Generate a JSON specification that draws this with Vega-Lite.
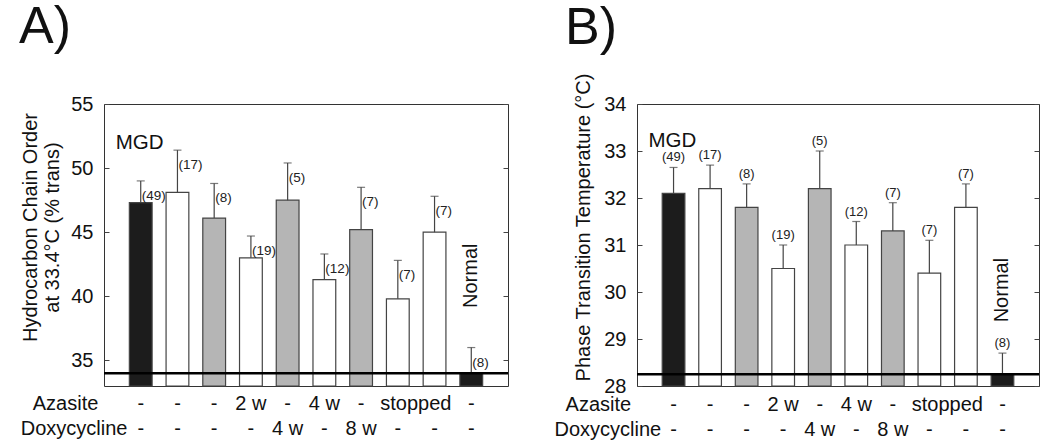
{
  "$schema": "https://vega.github.io/schema/vega-lite/v6.json",
  "padding": {"left": 18, "top": 0, "right": 5, "bottom": 0},
  "config": {
    "font": "Liberation Sans",
    "view": {"stroke": "#333", "strokeWidth": 1},
    "axis": {"labelFontSize": 20, "labelColor": "#111", "titleFontSize": 20, "titleFontWeight": "normal", "titleColor": "#111", "grid": false, "domain": false, "tickColor": "#444", "tickSize": -5}
  },
  "datasets": {
    "a": [
      {"id": 1, "mean": 47.3, "upper": 49.0, "nlab": "(49)", "group": "black"},
      {"id": 2, "mean": 48.1, "upper": 51.4, "nlab": "(17)", "group": "white"},
      {"id": 3, "mean": 46.1, "upper": 48.8, "nlab": "(8)", "group": "grey"},
      {"id": 4, "mean": 43.0, "upper": 44.7, "nlab": "(19)", "group": "white"},
      {"id": 5, "mean": 47.5, "upper": 50.4, "nlab": "(5)", "group": "grey"},
      {"id": 6, "mean": 41.3, "upper": 43.3, "nlab": "(12)", "group": "white"},
      {"id": 7, "mean": 45.2, "upper": 48.5, "nlab": "(7)", "group": "grey"},
      {"id": 8, "mean": 39.8, "upper": 42.8, "nlab": "(7)", "group": "white"},
      {"id": 9, "mean": 45.0, "upper": 47.8, "nlab": "(7)", "group": "white"},
      {"id": 10, "mean": 34.0, "upper": 36.0, "nlab": "(8)", "group": "black"}
    ],
    "b": [
      {"id": 1, "mean": 32.1, "upper": 32.65, "nlab": "(49)", "group": "black"},
      {"id": 2, "mean": 32.2, "upper": 32.7, "nlab": "(17)", "group": "white"},
      {"id": 3, "mean": 31.8, "upper": 32.3, "nlab": "(8)", "group": "grey"},
      {"id": 4, "mean": 30.5, "upper": 31.0, "nlab": "(19)", "group": "white"},
      {"id": 5, "mean": 32.2, "upper": 33.0, "nlab": "(5)", "group": "grey"},
      {"id": 6, "mean": 31.0, "upper": 31.5, "nlab": "(12)", "group": "white"},
      {"id": 7, "mean": 31.3, "upper": 31.9, "nlab": "(7)", "group": "grey"},
      {"id": 8, "mean": 30.4, "upper": 31.1, "nlab": "(7)", "group": "white"},
      {"id": 9, "mean": 31.8, "upper": 32.3, "nlab": "(7)", "group": "white"},
      {"id": 10, "mean": 28.25, "upper": 28.7, "nlab": "(8)", "group": "black"}
    ],
    "tbl": [
      {"drug": "Azasite", "id": 1, "label": "-"},
      {"drug": "Azasite", "id": 2, "label": "-"},
      {"drug": "Azasite", "id": 3, "label": "-"},
      {"drug": "Azasite", "id": 4, "label": "2 w"},
      {"drug": "Azasite", "id": 5, "label": "-"},
      {"drug": "Azasite", "id": 6, "label": "4 w"},
      {"drug": "Azasite", "id": 7, "label": "-"},
      {"drug": "Azasite", "id": 8, "label": "stopped"},
      {"drug": "Azasite", "id": 10, "label": "-"},
      {"drug": "Doxycycline", "id": 1, "label": "-"},
      {"drug": "Doxycycline", "id": 2, "label": "-"},
      {"drug": "Doxycycline", "id": 3, "label": "-"},
      {"drug": "Doxycycline", "id": 4, "label": "-"},
      {"drug": "Doxycycline", "id": 5, "label": "4 w"},
      {"drug": "Doxycycline", "id": 6, "label": "-"},
      {"drug": "Doxycycline", "id": 7, "label": "8 w"},
      {"drug": "Doxycycline", "id": 8, "label": "-"},
      {"drug": "Doxycycline", "id": 9, "label": "-"},
      {"drug": "Doxycycline", "id": 10, "label": "-"}
    ],
    "rows": [
      {"drug": "Azasite", "id": 1},
      {"drug": "Doxycycline", "id": 1}
    ]
  },
  "spacing": 44,
  "hconcat": [
    {
      "title": {"text": "A)", "fontSize": 52, "fontWeight": "normal", "anchor": "start", "frame": "group", "dx": -85, "offset": 40, "color": "#111"},
      "width": 404,
      "height": 282,
      "resolve": {"axis": {"y": "independent"}},
      "layer": [
        {
          "data": {"name": "a"},
          "mark": {"type": "bar", "stroke": "#444", "strokeWidth": 1.2},
          "encoding": {
            "x": {"field": "id", "type": "ordinal", "scale": {"type": "band", "domain": [1,2,3,4,5,6,7,8,9,10], "paddingInner": 0.38, "paddingOuter": 0.69}, "axis": null},
            "y": {"field": "mean", "type": "quantitative", "scale": {"domain": [33, 55], "nice": false, "zero": false}, "axis": {"values": [35, 40, 45, 50, 55], "labelPadding": 16, "title": ["Hydrocarbon Chain Order", "at 33.4°C (% trans)"], "titlePadding": 8, "titleLineHeight": 22, "titleY": 123}},
            "y2": {"datum": 33},
            "fill": {"field": "group", "type": "nominal", "scale": {"domain": ["black", "grey", "white"], "range": ["#1c1c1c", "#b5b5b5", "#ffffff"]}, "legend": null}
          }
        },
        {
          "data": {"name": "a"},
          "mark": {"type": "rule", "color": "#444", "strokeWidth": 1.2},
          "encoding": {
            "x": {"field": "id", "type": "ordinal", "axis": null},
            "y": {"field": "mean", "type": "quantitative", "scale": {"domain": [33, 55], "nice": false, "zero": false}, "axis": null},
            "y2": {"field": "upper"}
          }
        },
        {
          "data": {"name": "a"},
          "mark": {"type": "tick", "color": "#444", "size": 8, "thickness": 1.2},
          "encoding": {
            "x": {"field": "id", "type": "ordinal", "axis": null},
            "y": {"field": "upper", "type": "quantitative", "scale": {"domain": [33, 55], "nice": false, "zero": false}, "axis": null}
          }
        },
        {
          "data": {"values": [{}]},
          "mark": {"type": "rule", "color": "#000", "strokeWidth": 2.5},
          "encoding": {
            "y": {"datum": 34, "type": "quantitative", "scale": {"domain": [33, 55], "nice": false, "zero": false}, "axis": {"orient": "right", "values": [35, 40, 45, 50, 55], "labels": false, "title": null}}
          }
        },
        {
          "data": {"name": "a"},
          "mark": {"type": "text", "align": "left", "baseline": "middle", "dx": 1, "dy": 15, "fontSize": 13.5, "color": "#222"},
          "encoding": {
            "x": {"field": "id", "type": "ordinal", "axis": null},
            "y": {"field": "upper", "type": "quantitative", "scale": {"domain": [33, 55], "nice": false, "zero": false}, "axis": null},
            "text": {"field": "nlab"}
          }
        },
        {
          "data": {"values": [{"id": 1, "label": "MGD"}]},
          "mark": {"type": "text", "align": "left", "baseline": "middle", "dx": -25, "fontSize": 20.5, "color": "#111"},
          "encoding": {
            "x": {"field": "id", "type": "ordinal", "axis": null},
            "y": {"datum": 51.95, "type": "quantitative", "scale": {"domain": [33, 55], "nice": false, "zero": false}, "axis": null},
            "text": {"field": "label"}
          }
        },
        {
          "data": {"values": [{"id": 10, "label": "Normal"}]},
          "mark": {"type": "text", "align": "center", "baseline": "middle", "angle": 270, "fontSize": 20, "color": "#111"},
          "encoding": {
            "x": {"field": "id", "type": "ordinal", "axis": null},
            "y": {"datum": 41.6, "type": "quantitative", "scale": {"domain": [33, 55], "nice": false, "zero": false}, "axis": null},
            "text": {"field": "label"}
          }
        },
        {
          "data": {"name": "tbl"},
          "transform": [{"filter": "datum.drug === 'Azasite' && datum.label !== 'stopped'"}],
          "mark": {"type": "text", "baseline": "middle", "fontSize": 20, "color": "#111"},
          "encoding": {
            "x": {"field": "id", "type": "ordinal", "axis": null},
            "y": {"datum": 31.6, "type": "quantitative", "scale": {"domain": [33, 55], "nice": false, "zero": false}, "axis": null},
            "text": {"field": "label"}
          }
        },
        {
          "data": {"name": "tbl"},
          "transform": [{"filter": "datum.label === 'stopped'"}],
          "mark": {"type": "text", "baseline": "middle", "fontSize": 20, "color": "#111", "dx": 18},
          "encoding": {
            "x": {"field": "id", "type": "ordinal", "axis": null},
            "y": {"datum": 31.6, "type": "quantitative", "scale": {"domain": [33, 55], "nice": false, "zero": false}, "axis": null},
            "text": {"field": "label"}
          }
        },
        {
          "data": {"name": "tbl"},
          "transform": [{"filter": "datum.drug === 'Doxycycline'"}],
          "mark": {"type": "text", "baseline": "middle", "fontSize": 20, "color": "#111"},
          "encoding": {
            "x": {"field": "id", "type": "ordinal", "axis": null},
            "y": {"datum": 29.65, "type": "quantitative", "scale": {"domain": [33, 55], "nice": false, "zero": false}, "axis": null},
            "text": {"field": "label"}
          }
        },
        {
          "data": {"name": "rows"},
          "transform": [{"filter": "datum.drug === 'Azasite'"}],
          "mark": {"type": "text", "align": "left", "baseline": "middle", "fontSize": 20, "color": "#111", "dx": -108},
          "encoding": {
            "x": {"field": "id", "type": "ordinal", "axis": null},
            "y": {"datum": 31.6, "type": "quantitative", "scale": {"domain": [33, 55], "nice": false, "zero": false}, "axis": null},
            "text": {"field": "drug"}
          }
        },
        {
          "data": {"name": "rows"},
          "transform": [{"filter": "datum.drug === 'Doxycycline'"}],
          "mark": {"type": "text", "align": "left", "baseline": "middle", "fontSize": 20, "color": "#111", "dx": -120},
          "encoding": {
            "x": {"field": "id", "type": "ordinal", "axis": null},
            "y": {"datum": 29.65, "type": "quantitative", "scale": {"domain": [33, 55], "nice": false, "zero": false}, "axis": null},
            "text": {"field": "drug"}
          }
        }
      ]
    },
    {
      "title": {"text": "B)", "fontSize": 52, "fontWeight": "normal", "anchor": "start", "frame": "group", "dx": -72, "dy": 19, "offset": 37, "color": "#111"},
      "width": 402,
      "height": 282,
      "resolve": {"axis": {"y": "independent"}},
      "layer": [
        {
          "data": {"name": "b"},
          "mark": {"type": "bar", "stroke": "#444", "strokeWidth": 1.2},
          "encoding": {
            "x": {"field": "id", "type": "ordinal", "scale": {"type": "band", "domain": [1,2,3,4,5,6,7,8,9,10], "paddingInner": 0.38, "paddingOuter": 0.69}, "axis": null},
            "y": {"field": "mean", "type": "quantitative", "scale": {"domain": [28, 34], "nice": false, "zero": false}, "axis": {"values": [28, 29, 30, 31, 32, 33, 34], "labelPadding": 16, "title": "Phase Transition Temperature (°C)", "titlePadding": 10, "titleY": 123}},
            "y2": {"datum": 28},
            "fill": {"field": "group", "type": "nominal", "scale": {"domain": ["black", "grey", "white"], "range": ["#1c1c1c", "#b5b5b5", "#ffffff"]}, "legend": null}
          }
        },
        {
          "data": {"name": "b"},
          "mark": {"type": "rule", "color": "#444", "strokeWidth": 1.2},
          "encoding": {
            "x": {"field": "id", "type": "ordinal", "axis": null},
            "y": {"field": "mean", "type": "quantitative", "scale": {"domain": [28, 34], "nice": false, "zero": false}, "axis": null},
            "y2": {"field": "upper"}
          }
        },
        {
          "data": {"name": "b"},
          "mark": {"type": "tick", "color": "#444", "size": 8, "thickness": 1.2},
          "encoding": {
            "x": {"field": "id", "type": "ordinal", "axis": null},
            "y": {"field": "upper", "type": "quantitative", "scale": {"domain": [28, 34], "nice": false, "zero": false}, "axis": null}
          }
        },
        {
          "data": {"values": [{}]},
          "mark": {"type": "rule", "color": "#000", "strokeWidth": 2.5},
          "encoding": {
            "y": {"datum": 28.25, "type": "quantitative", "scale": {"domain": [28, 34], "nice": false, "zero": false}, "axis": {"orient": "right", "values": [28, 29, 30, 31, 32, 33, 34], "labels": false, "title": null}}
          }
        },
        {
          "data": {"name": "b"},
          "mark": {"type": "text", "align": "center", "baseline": "bottom", "dy": -3, "fontSize": 13, "color": "#222"},
          "encoding": {
            "x": {"field": "id", "type": "ordinal", "axis": null},
            "y": {"field": "upper", "type": "quantitative", "scale": {"domain": [28, 34], "nice": false, "zero": false}, "axis": null},
            "text": {"field": "nlab"}
          }
        },
        {
          "data": {"values": [{"id": 1, "label": "MGD"}]},
          "mark": {"type": "text", "align": "left", "baseline": "middle", "dx": -25, "fontSize": 20.5, "color": "#111"},
          "encoding": {
            "x": {"field": "id", "type": "ordinal", "axis": null},
            "y": {"datum": 33.22, "type": "quantitative", "scale": {"domain": [28, 34], "nice": false, "zero": false}, "axis": null},
            "text": {"field": "label"}
          }
        },
        {
          "data": {"values": [{"id": 10, "label": "Normal"}]},
          "mark": {"type": "text", "align": "center", "baseline": "middle", "angle": 270, "fontSize": 20, "color": "#111"},
          "encoding": {
            "x": {"field": "id", "type": "ordinal", "axis": null},
            "y": {"datum": 30.04, "type": "quantitative", "scale": {"domain": [28, 34], "nice": false, "zero": false}, "axis": null},
            "text": {"field": "label"}
          }
        },
        {
          "data": {"name": "tbl"},
          "transform": [{"filter": "datum.drug === 'Azasite' && datum.label !== 'stopped'"}],
          "mark": {"type": "text", "baseline": "middle", "fontSize": 20, "color": "#111"},
          "encoding": {
            "x": {"field": "id", "type": "ordinal", "axis": null},
            "y": {"datum": 27.6, "type": "quantitative", "scale": {"domain": [28, 34], "nice": false, "zero": false}, "axis": null},
            "text": {"field": "label"}
          }
        },
        {
          "data": {"name": "tbl"},
          "transform": [{"filter": "datum.label === 'stopped'"}],
          "mark": {"type": "text", "baseline": "middle", "fontSize": 20, "color": "#111", "dx": 18},
          "encoding": {
            "x": {"field": "id", "type": "ordinal", "axis": null},
            "y": {"datum": 27.6, "type": "quantitative", "scale": {"domain": [28, 34], "nice": false, "zero": false}, "axis": null},
            "text": {"field": "label"}
          }
        },
        {
          "data": {"name": "tbl"},
          "transform": [{"filter": "datum.drug === 'Doxycycline'"}],
          "mark": {"type": "text", "baseline": "middle", "fontSize": 20, "color": "#111"},
          "encoding": {
            "x": {"field": "id", "type": "ordinal", "axis": null},
            "y": {"datum": 27.07, "type": "quantitative", "scale": {"domain": [28, 34], "nice": false, "zero": false}, "axis": null},
            "text": {"field": "label"}
          }
        },
        {
          "data": {"name": "rows"},
          "transform": [{"filter": "datum.drug === 'Azasite'"}],
          "mark": {"type": "text", "align": "left", "baseline": "middle", "fontSize": 20, "color": "#111", "dx": -108},
          "encoding": {
            "x": {"field": "id", "type": "ordinal", "axis": null},
            "y": {"datum": 27.6, "type": "quantitative", "scale": {"domain": [28, 34], "nice": false, "zero": false}, "axis": null},
            "text": {"field": "drug"}
          }
        },
        {
          "data": {"name": "rows"},
          "transform": [{"filter": "datum.drug === 'Doxycycline'"}],
          "mark": {"type": "text", "align": "left", "baseline": "middle", "fontSize": 20, "color": "#111", "dx": -119},
          "encoding": {
            "x": {"field": "id", "type": "ordinal", "axis": null},
            "y": {"datum": 27.07, "type": "quantitative", "scale": {"domain": [28, 34], "nice": false, "zero": false}, "axis": null},
            "text": {"field": "drug"}
          }
        }
      ]
    }
  ]
}
